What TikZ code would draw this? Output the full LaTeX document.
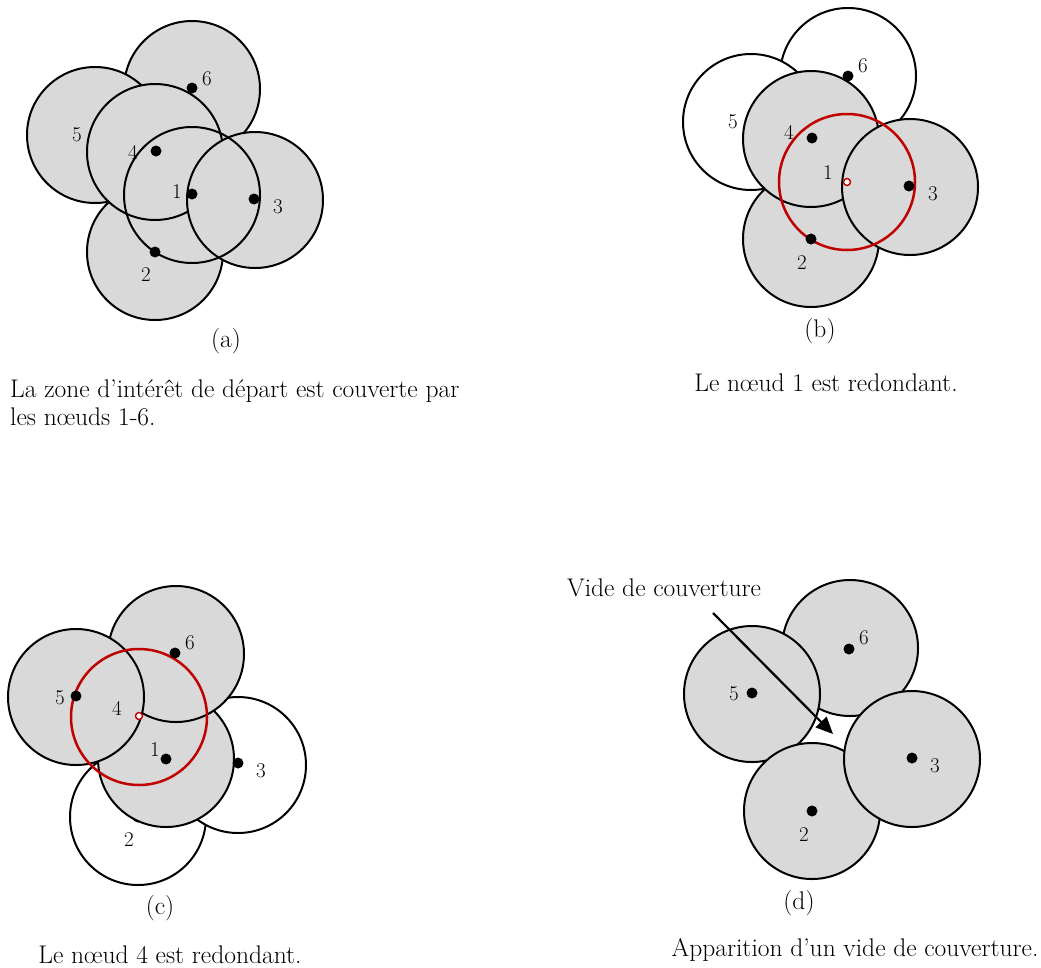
\documentclass[tikz,border=0pt]{standalone}
\usepackage{fontspec}
\usetikzlibrary{arrows.meta}
\definecolor{cgray}{HTML}{D9D9D9}
\definecolor{cred}{HTML}{C00000}
\begin{document}
\begin{tikzpicture}[x=1pt,y=-1pt,
  gcirc/.style={draw=black,line width=2pt,fill=cgray},
  wcirc/.style={draw=black,line width=2pt,fill=white},
  ocirc/.style={draw=black,line width=2pt},
  rcirc/.style={draw=cred,line width=2.5pt},
  sensor/.style={circle,fill=black,inner sep=0pt,minimum size=11pt},
  rsensor/.style={circle,draw=cred,fill=white,line width=1.4pt,inner sep=0pt,minimum size=7pt},
  lab/.style={inner sep=0pt,font=\fontsize{21}{21}\selectfont},
  captext/.style={inner sep=0pt,font=\fontsize{25.5}{30}\selectfont},
  gaparrow/.style={line width=2.2pt,-{Triangle[length=17pt,width=15pt]}}]
\useasboundingbox (0,0) rectangle (1041,967);

% ---------- (a) initial coverage by nodes 1-6
\draw[gcirc] (192,89) circle (68pt);
\draw[gcirc] (95,135) circle (68pt);
\draw[gcirc] (155,252) circle (68pt);
\draw[gcirc] (155,152) circle (68pt);
\draw[gcirc] (255,200) circle (68pt);
\draw[ocirc] (192,195) circle (68pt);
\node[sensor] (a6) at (192,88) {};
\node[sensor] (a4) at (156,151) {};
\node[sensor] (a1) at (192,194) {};
\node[sensor] (a3) at (254,199) {};
\node[sensor] (a2) at (155,252) {};
\node[lab] (la6) at (207,79) {6};
\node[lab] (la5) at (77,135) {5};
\node[lab] (la4) at (133,152) {4};
\node[lab] (la1) at (177,192) {1};
\node[lab] (la3) at (278,207) {3};
\node[lab] (la2) at (146,275) {2};
\node[captext] (ta) at (226,341) {(a)};
\node[captext,anchor=base west] (capa1) at (10,397) {La zone d’intérêt de départ est couverte par};
\node[captext,anchor=base west] (capa2) at (10,425) {les nœuds 1-6.};

% ---------- (b) node 1 is redundant
\draw[wcirc] (848,76) circle (68pt);
\draw[wcirc] (751,122) circle (68pt);
\draw[gcirc] (811,239) circle (68pt);
\draw[gcirc] (811,139) circle (68pt);
\draw[gcirc] (910,187) circle (68pt);
\draw[rcirc] (847,182) circle (68pt);
\node[sensor] (b6) at (848,76) {};
\node[sensor] (b4) at (812,138) {};
\node[sensor] (b3) at (909,186) {};
\node[sensor] (b2) at (811,239) {};
\node[rsensor] (b1) at (847,182) {};
\node[lab] (lb6) at (863,66) {6};
\node[lab] (lb5) at (733,122) {5};
\node[lab] (lb4) at (789,132) {4};
\node[lab] (lb1) at (828,173) {1};
\node[lab] (lb3) at (933,194) {3};
\node[lab] (lb2) at (802,263) {2};
\node[captext] (tb) at (820,331) {(b)};
\node[captext] (capb) at (826,383) {Le nœud 1 est redondant.};

% ---------- (c) node 4 is redundant
\draw[wcirc] (138,817) circle (68pt);
\node[sensor] (c2) at (138,817) {};
\draw[wcirc] (238,765) circle (68pt);
\draw[gcirc] (166,759) circle (68pt);
\draw[gcirc] (176,654) circle (68pt);
\draw[gcirc] (76,697) circle (68pt);
\draw[rcirc] (139,717) circle (68pt);
\node[sensor] (c5) at (76,696) {};
\node[sensor] (c6) at (175,653) {};
\node[sensor] (c1) at (166,759) {};
\node[sensor] (c3) at (238,763) {};
\node[rsensor] (c4) at (139,716) {};
\node[lab] (lc5) at (60,698) {5};
\node[lab] (lc6) at (190,643) {6};
\node[lab] (lc4) at (117,708) {4};
\node[lab] (lc1) at (155,750) {1};
\node[lab] (lc3) at (261,771) {3};
\node[lab] (lc2) at (129,840) {2};
\node[captext] (tc) at (160,908) {(c)};
\node[captext] (capc) at (170,955) {Le nœud 4 est redondant.};

% ---------- (d) a coverage hole appears
\draw[gcirc] (850,648) circle (68pt);
\draw[gcirc] (752,694) circle (68pt);
\draw[gcirc] (812,811) circle (68pt);
\draw[gcirc] (912,759) circle (68pt);
\node[sensor] (d5) at (752,693) {};
\node[sensor] (d6) at (849,649) {};
\node[sensor] (d3) at (912,758) {};
\node[sensor] (d2) at (812,811) {};
\node[lab] (ld5) at (734,694) {5};
\node[lab] (ld6) at (864,638) {6};
\node[lab] (ld3) at (935,766) {3};
\node[lab] (ld2) at (804,835) {2};
\node[captext] (hole) at (664,588) {Vide de couverture};
\coordinate (holestart) at (713,613);
\coordinate (holetip) at (833,734);
\draw[gaparrow] (holestart) -- (holetip);
\node[captext] (td) at (799,903) {(d)};
\node[captext] (capd) at (855,950) {Apparition d’un vide de couverture.};
\end{tikzpicture}
\end{document}
